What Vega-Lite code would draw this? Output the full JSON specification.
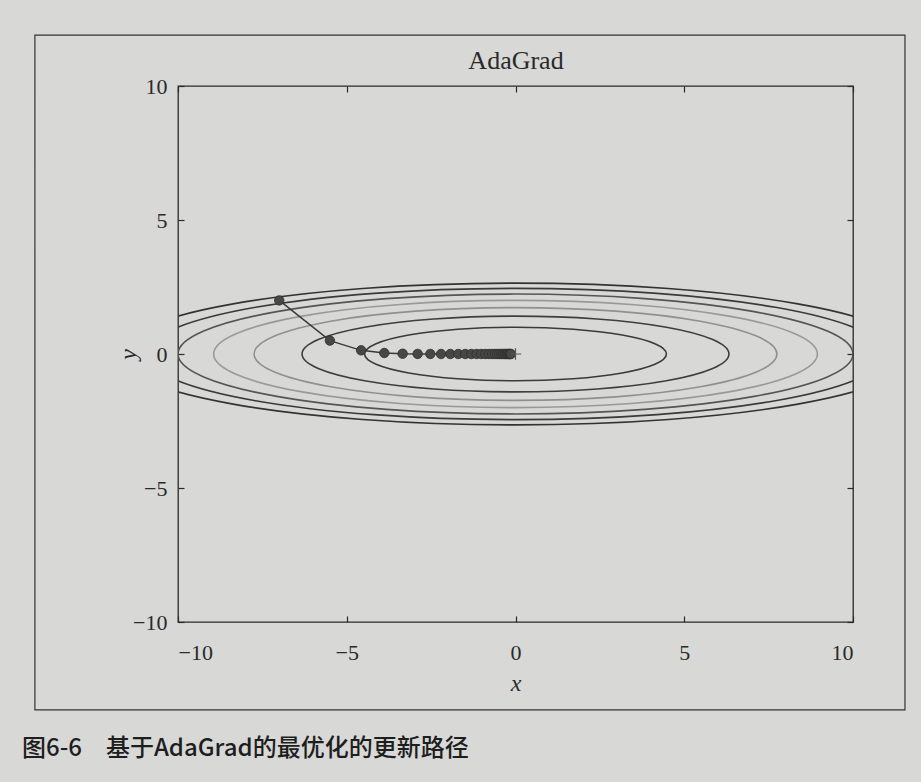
{
  "$schema": "https://vega.github.io/schema/vega-lite/v6.json",
  "width": 675,
  "height": 536,
  "autosize": {"type": "none"},
  "padding": {"left": 178, "top": 86, "right": 68, "bottom": 160},
  "background": "#d8d8d6",
  "title": {
    "text": "图6-6　基于AdaGrad的最优化的更新路径",
    "orient": "bottom",
    "anchor": "start",
    "frame": "group",
    "dx": -156,
    "offset": 26,
    "font": "Noto Sans CJK SC",
    "fontSize": 24,
    "fontWeight": 500,
    "color": "#1e1e1e"
  },
  "config": {
    "view": {"stroke": "#2a2a2a", "strokeWidth": 1.3, "fill": null},
    "axis": {
      "labelFont": "Liberation Serif",
      "labelFontSize": 22,
      "labelColor": "#2a2a2a",
      "tickColor": "#2a2a2a",
      "tickSize": -6,
      "tickWidth": 1.2,
      "domain": false,
      "grid": false,
      "titleFont": "Liberation Serif",
      "titleFontSize": 24,
      "titleFontStyle": "italic",
      "titleFontWeight": "normal",
      "titleColor": "#2a2a2a"
    }
  },
  "datasets": {
    "contours": [
      {"lev": 1, "i": 0, "x": 4.4721, "y": 0},
      {"lev": 1, "i": 1, "x": 4.1317, "y": 0.3827},
      {"lev": 1, "i": 2, "x": 3.1623, "y": 0.7071},
      {"lev": 1, "i": 3, "x": 1.7114, "y": 0.9239},
      {"lev": 1, "i": 4, "x": 0, "y": 1},
      {"lev": 1, "i": 5, "x": -1.7114, "y": 0.9239},
      {"lev": 1, "i": 6, "x": -3.1623, "y": 0.7071},
      {"lev": 1, "i": 7, "x": -4.1317, "y": 0.3827},
      {"lev": 1, "i": 8, "x": -4.4721, "y": 0},
      {"lev": 1, "i": 9, "x": -4.1317, "y": -0.3827},
      {"lev": 1, "i": 10, "x": -3.1623, "y": -0.7071},
      {"lev": 1, "i": 11, "x": -1.7114, "y": -0.9239},
      {"lev": 1, "i": 12, "x": 0, "y": -1},
      {"lev": 1, "i": 13, "x": 1.7114, "y": -0.9239},
      {"lev": 1, "i": 14, "x": 3.1623, "y": -0.7071},
      {"lev": 1, "i": 15, "x": 4.1317, "y": -0.3827},

      {"lev": 2, "i": 0, "x": 6.3246, "y": 0},
      {"lev": 2, "i": 1, "x": 5.8432, "y": 0.5412},
      {"lev": 2, "i": 2, "x": 4.4721, "y": 1.0},
      {"lev": 2, "i": 3, "x": 2.4203, "y": 1.3066},
      {"lev": 2, "i": 4, "x": 0, "y": 1.4142},
      {"lev": 2, "i": 5, "x": -2.4203, "y": 1.3066},
      {"lev": 2, "i": 6, "x": -4.4721, "y": 1.0},
      {"lev": 2, "i": 7, "x": -5.8432, "y": 0.5412},
      {"lev": 2, "i": 8, "x": -6.3246, "y": 0},
      {"lev": 2, "i": 9, "x": -5.8432, "y": -0.5412},
      {"lev": 2, "i": 10, "x": -4.4721, "y": -1.0},
      {"lev": 2, "i": 11, "x": -2.4203, "y": -1.3066},
      {"lev": 2, "i": 12, "x": 0, "y": -1.4142},
      {"lev": 2, "i": 13, "x": 2.4203, "y": -1.3066},
      {"lev": 2, "i": 14, "x": 4.4721, "y": -1.0},
      {"lev": 2, "i": 15, "x": 5.8432, "y": -0.5412},

      {"lev": 3, "i": 0, "x": 7.746, "y": 0},
      {"lev": 3, "i": 1, "x": 7.1564, "y": 0.6628},
      {"lev": 3, "i": 2, "x": 5.4772, "y": 1.2247},
      {"lev": 3, "i": 3, "x": 2.9642, "y": 1.6003},
      {"lev": 3, "i": 4, "x": 0, "y": 1.7321},
      {"lev": 3, "i": 5, "x": -2.9642, "y": 1.6003},
      {"lev": 3, "i": 6, "x": -5.4772, "y": 1.2247},
      {"lev": 3, "i": 7, "x": -7.1564, "y": 0.6628},
      {"lev": 3, "i": 8, "x": -7.746, "y": 0},
      {"lev": 3, "i": 9, "x": -7.1564, "y": -0.6628},
      {"lev": 3, "i": 10, "x": -5.4772, "y": -1.2247},
      {"lev": 3, "i": 11, "x": -2.9642, "y": -1.6003},
      {"lev": 3, "i": 12, "x": 0, "y": -1.7321},
      {"lev": 3, "i": 13, "x": 2.9642, "y": -1.6003},
      {"lev": 3, "i": 14, "x": 5.4772, "y": -1.2247},
      {"lev": 3, "i": 15, "x": 7.1564, "y": -0.6628},

      {"lev": 4, "i": 0, "x": 8.9443, "y": 0},
      {"lev": 4, "i": 1, "x": 8.2635, "y": 0.7654},
      {"lev": 4, "i": 2, "x": 6.3246, "y": 1.4142},
      {"lev": 4, "i": 3, "x": 3.4228, "y": 1.8478},
      {"lev": 4, "i": 4, "x": 0, "y": 2},
      {"lev": 4, "i": 5, "x": -3.4228, "y": 1.8478},
      {"lev": 4, "i": 6, "x": -6.3246, "y": 1.4142},
      {"lev": 4, "i": 7, "x": -8.2635, "y": 0.7654},
      {"lev": 4, "i": 8, "x": -8.9443, "y": 0},
      {"lev": 4, "i": 9, "x": -8.2635, "y": -0.7654},
      {"lev": 4, "i": 10, "x": -6.3246, "y": -1.4142},
      {"lev": 4, "i": 11, "x": -3.4228, "y": -1.8478},
      {"lev": 4, "i": 12, "x": 0, "y": -2},
      {"lev": 4, "i": 13, "x": 3.4228, "y": -1.8478},
      {"lev": 4, "i": 14, "x": 6.3246, "y": -1.4142},
      {"lev": 4, "i": 15, "x": 8.2635, "y": -0.7654},

      {"lev": 5, "i": 0, "x": 10, "y": 0},
      {"lev": 5, "i": 1, "x": 9.2388, "y": 0.8557},
      {"lev": 5, "i": 2, "x": 7.0711, "y": 1.5811},
      {"lev": 5, "i": 3, "x": 3.8268, "y": 2.0659},
      {"lev": 5, "i": 4, "x": 0, "y": 2.2361},
      {"lev": 5, "i": 5, "x": -3.8268, "y": 2.0659},
      {"lev": 5, "i": 6, "x": -7.0711, "y": 1.5811},
      {"lev": 5, "i": 7, "x": -9.2388, "y": 0.8557},
      {"lev": 5, "i": 8, "x": -10, "y": 0},
      {"lev": 5, "i": 9, "x": -9.2388, "y": -0.8557},
      {"lev": 5, "i": 10, "x": -7.0711, "y": -1.5811},
      {"lev": 5, "i": 11, "x": -3.8268, "y": -2.0659},
      {"lev": 5, "i": 12, "x": 0, "y": -2.2361},
      {"lev": 5, "i": 13, "x": 3.8268, "y": -2.0659},
      {"lev": 5, "i": 14, "x": 7.0711, "y": -1.5811},
      {"lev": 5, "i": 15, "x": 9.2388, "y": -0.8557},

      {"lev": 6, "i": 0, "x": 10.9545, "y": 0},
      {"lev": 6, "i": 1, "x": 10.1206, "y": 0.9374},
      {"lev": 6, "i": 2, "x": 7.746, "y": 1.7321},
      {"lev": 6, "i": 3, "x": 4.1921, "y": 2.263},
      {"lev": 6, "i": 4, "x": 0, "y": 2.4495},
      {"lev": 6, "i": 5, "x": -4.1921, "y": 2.263},
      {"lev": 6, "i": 6, "x": -7.746, "y": 1.7321},
      {"lev": 6, "i": 7, "x": -10.1206, "y": 0.9374},
      {"lev": 6, "i": 8, "x": -10.9545, "y": 0},
      {"lev": 6, "i": 9, "x": -10.1206, "y": -0.9374},
      {"lev": 6, "i": 10, "x": -7.746, "y": -1.7321},
      {"lev": 6, "i": 11, "x": -4.1921, "y": -2.263},
      {"lev": 6, "i": 12, "x": 0, "y": -2.4495},
      {"lev": 6, "i": 13, "x": 4.1921, "y": -2.263},
      {"lev": 6, "i": 14, "x": 7.746, "y": -1.7321},
      {"lev": 6, "i": 15, "x": 10.1206, "y": -0.9374},

      {"lev": 7, "i": 0, "x": 11.8322, "y": 0},
      {"lev": 7, "i": 1, "x": 10.9315, "y": 1.0125},
      {"lev": 7, "i": 2, "x": 8.3666, "y": 1.8708},
      {"lev": 7, "i": 3, "x": 4.528, "y": 2.4444},
      {"lev": 7, "i": 4, "x": 0, "y": 2.6458},
      {"lev": 7, "i": 5, "x": -4.528, "y": 2.4444},
      {"lev": 7, "i": 6, "x": -8.3666, "y": 1.8708},
      {"lev": 7, "i": 7, "x": -10.9315, "y": 1.0125},
      {"lev": 7, "i": 8, "x": -11.8322, "y": 0},
      {"lev": 7, "i": 9, "x": -10.9315, "y": -1.0125},
      {"lev": 7, "i": 10, "x": -8.3666, "y": -1.8708},
      {"lev": 7, "i": 11, "x": -4.528, "y": -2.4444},
      {"lev": 7, "i": 12, "x": 0, "y": -2.6458},
      {"lev": 7, "i": 13, "x": 4.528, "y": -2.4444},
      {"lev": 7, "i": 14, "x": 8.3666, "y": -1.8708},
      {"lev": 7, "i": 15, "x": 10.9315, "y": -1.0125}
    ],
    "path": [
      {"step": 0, "x": -7, "y": 2},
      {"step": 1, "x": -5.5, "y": 0.5},
      {"step": 2, "x": -4.5733, "y": 0.1362},
      {"step": 3, "x": -3.8879, "y": 0.0373},
      {"step": 4, "x": -3.3447, "y": 0.0102},
      {"step": 5, "x": -2.8986, "y": 0.0028},
      {"step": 6, "x": -2.5242, "y": 0.0008},
      {"step": 7, "x": -2.2056, "y": 0.0002},
      {"step": 8, "x": -1.9319, "y": 0.0001},
      {"step": 9, "x": -1.6952, "y": 0},
      {"step": 10, "x": -1.4894, "y": 0},
      {"step": 11, "x": -1.3099, "y": 0},
      {"step": 12, "x": -1.1529, "y": 0},
      {"step": 13, "x": -1.0153, "y": 0},
      {"step": 14, "x": -0.8945, "y": 0},
      {"step": 15, "x": -0.7884, "y": 0},
      {"step": 16, "x": -0.695, "y": 0},
      {"step": 17, "x": -0.6128, "y": 0},
      {"step": 18, "x": -0.5404, "y": 0},
      {"step": 19, "x": -0.4766, "y": 0},
      {"step": 20, "x": -0.4204, "y": 0},
      {"step": 21, "x": -0.3709, "y": 0},
      {"step": 22, "x": -0.3272, "y": 0},
      {"step": 23, "x": -0.2887, "y": 0},
      {"step": 24, "x": -0.2547, "y": 0},
      {"step": 25, "x": -0.2247, "y": 0},
      {"step": 26, "x": -0.1983, "y": 0},
      {"step": 27, "x": -0.1749, "y": 0},
      {"step": 28, "x": -0.1543, "y": 0},
      {"step": 29, "x": -0.1362, "y": 0}
    ],
    "minimum": [{"x": 0, "y": 0}]
  },
  "layer": [
    {
      "data": {"values": [{}]},
      "mark": {"type": "rect", "fill": null, "stroke": "#333333", "strokeWidth": 1.2, "clip": false},
      "encoding": {
        "x": {"datum": -14.24, "type": "quantitative", "scale": {"domain": [-10, 10], "nice": false, "zero": false}, "axis": null},
        "x2": {"datum": 11.54},
        "y": {"datum": 11.9, "type": "quantitative", "scale": {"domain": [-10, 10], "nice": false, "zero": false}, "axis": null},
        "y2": {"datum": -13.28}
      }
    },
    {
      "data": {"name": "contours"},
      "mark": {"type": "line", "interpolate": "cardinal-closed", "clip": true},
      "encoding": {
        "x": {
          "field": "x", "type": "quantitative",
          "scale": {"domain": [-10, 10], "nice": false, "zero": false},
          "axis": {"orient": "bottom", "values": [-10, -5, 0, 5, 10], "labelPadding": 26, "title": "x", "titlePadding": 8}
        },
        "y": {
          "field": "y", "type": "quantitative",
          "scale": {"domain": [-10, 10], "nice": false, "zero": false},
          "axis": {"orient": "left", "values": [-10, -5, 0, 5, 10], "labelPadding": 17, "title": "y", "titlePadding": -8}
        },
        "order": {"field": "i", "type": "quantitative"},
        "detail": {"field": "lev", "type": "nominal"},
        "color": {
          "field": "lev", "type": "ordinal",
          "scale": {"domain": [1, 2, 3, 4, 5, 6, 7], "range": ["#3a3a3a", "#3e3e3e", "#909090", "#999999", "#555555", "#3a3a3a", "#333333"]},
          "legend": null
        },
        "strokeWidth": {
          "field": "lev", "type": "ordinal",
          "scale": {"domain": [1, 2, 3, 4, 5, 6, 7], "range": [1.6, 1.6, 1.1, 1.1, 1.4, 1.6, 1.7]},
          "legend": null
        }
      }
    },
    {
      "data": {"name": "path"},
      "mark": {"type": "line", "color": "#3a3a3a", "strokeWidth": 1.5, "clip": true},
      "encoding": {
        "x": {"field": "x", "type": "quantitative", "scale": {"domain": [-10, 10], "nice": false, "zero": false}, "axis": null},
        "y": {"field": "y", "type": "quantitative", "scale": {"domain": [-10, 10], "nice": false, "zero": false}, "axis": null},
        "order": {"field": "step", "type": "quantitative"}
      }
    },
    {
      "data": {"name": "path"},
      "mark": {"type": "point", "filled": true, "size": 90, "color": "#474747", "stroke": "#2e2e2e", "strokeWidth": 0.8, "opacity": 1},
      "encoding": {
        "x": {
          "field": "x", "type": "quantitative",
          "scale": {"domain": [-10, 10], "nice": false, "zero": false},
          "axis": {"orient": "top", "values": [-10, -5, 0, 5, 10], "labels": false, "title": "AdaGrad", "titleFontStyle": "normal", "titleFontSize": 26, "titlePadding": 12}
        },
        "y": {
          "field": "y", "type": "quantitative",
          "scale": {"domain": [-10, 10], "nice": false, "zero": false},
          "axis": {"orient": "right", "values": [-10, -5, 0, 5, 10], "labels": false, "title": null}
        }
      }
    },
    {
      "data": {"name": "minimum"},
      "mark": {"type": "point", "shape": "M-1,0L1,0M0,-1L0,1", "size": 130, "filled": false, "color": "#555555", "strokeWidth": 1.2, "opacity": 1},
      "encoding": {
        "x": {"field": "x", "type": "quantitative", "scale": {"domain": [-10, 10], "nice": false, "zero": false}, "axis": null},
        "y": {"field": "y", "type": "quantitative", "scale": {"domain": [-10, 10], "nice": false, "zero": false}, "axis": null}
      }
    }
  ],
  "resolve": {"axis": {"x": "independent", "y": "independent"}}
}
